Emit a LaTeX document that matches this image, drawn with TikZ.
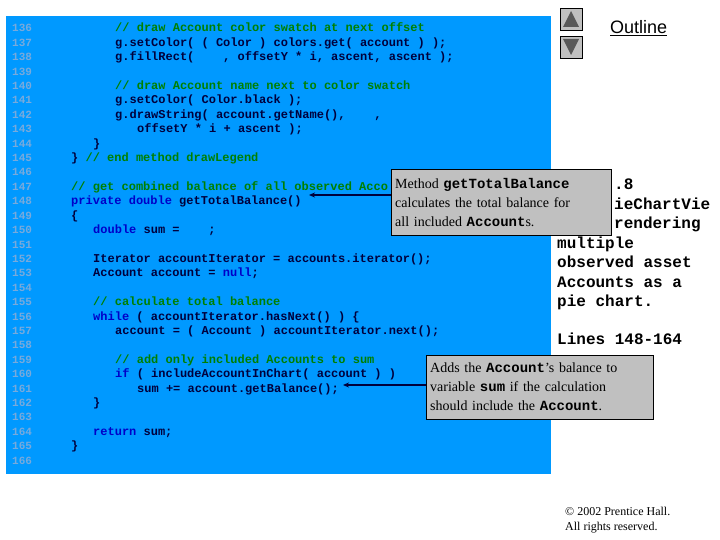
\documentclass[tikz,border=0pt]{standalone}
\usepackage{fontspec}
\usetikzlibrary{arrows.meta}
\setmainfont{Liberation Serif}
\newfontfamily\cmono{Liberation Mono}
\newfontfamily\csans{Liberation Sans}
\begin{document}
\begin{tikzpicture}[x=1pt,y=-1pt,
  ln/.style={anchor=base west,inner sep=0,font=\cmono\bfseries\fontsize{11}{12}\selectfont,text=lnc},
  cd/.style={anchor=base west,inner sep=0,font=\cmono\bfseries\fontsize{12}{12}\selectfont,text=txt},
  call/.style={draw=black,fill=boxg,anchor=north west,align=left,inner xsep=4pt,inner ysep=4pt,font=\fontsize{14}{19}\selectfont,text=black},
  arr/.style={draw=txt,line width=1.6pt,-{Stealth[length=6pt,width=5pt]}},
  side/.style={anchor=base west,inner sep=0,font=\cmono\bfseries\fontsize{16}{16}\selectfont}]
\definecolor{bg}{RGB}{0,153,255}
\definecolor{lnc}{RGB}{120,170,220}
\definecolor{cm}{RGB}{0,128,0}
\definecolor{kw}{RGB}{0,0,200}
\definecolor{txt}{RGB}{0,0,60}
\definecolor{boxg}{RGB}{192,192,192}
\useasboundingbox (0,0) rectangle (720,540);
\fill[white] (0,0) rectangle (720,540);
\fill[bg] (6,16) rectangle (551,474);
\newcommand\Y[1]{32+(#1-136)*14.4}
\foreach \n in {136,...,166}{\node[ln] (n\n) at (12,{32+(\n-136)*14.4}) {\n};}
\def\C#1{\textcolor{cm}{#1}}\def\K#1{\textcolor{kw}{#1}}
\node[cd] (c136) at (115,{\Y{136}}) {\C{// draw Account color swatch at next offset}};
\node[cd] (c137) at (115,{\Y{137}}) {g.setColor( ( Color ) colors.get( account ) );};
\node[cd] (c138) at (115,{\Y{138}}) {g.fillRect(~~~~, offsetY * i, ascent, ascent );};
\node[cd] (c140) at (115,{\Y{140}}) {\C{// draw Account name next to color swatch}};
\node[cd] (c141) at (115,{\Y{141}}) {g.setColor( Color.black );};
\node[cd] (c142) at (115,{\Y{142}}) {g.drawString( account.getName(),~~~~,};
\node[cd] (c143) at (137,{\Y{143}}) {offsetY * i + ascent );};
\node[cd] (c144) at (93,{\Y{144}}) {\}};
\node[cd] (c145) at (71,{\Y{145}}) {\} \C{// end method drawLegend}};
\node[cd] (c147) at (71,{\Y{147}}) {\C{// get combined balance of all observed Acco}};
\node[cd] (c148) at (71,{\Y{148}}) {\K{private double} getTotalBalance()};
\node[cd] (c149) at (71,{\Y{149}}) {\{};
\node[cd] (c150) at (93,{\Y{150}}) {\K{double} sum =~~~~;};
\node[cd] (c152) at (93,{\Y{152}}) {Iterator accountIterator = accounts.iterator();};
\node[cd] (c153) at (93,{\Y{153}}) {Account account = \K{null};};
\node[cd] (c155) at (93,{\Y{155}}) {\C{// calculate total balance}};
\node[cd] (c156) at (93,{\Y{156}}) {\K{while} ( accountIterator.hasNext() ) \{};
\node[cd] (c157) at (115,{\Y{157}}) {account = ( Account ) accountIterator.next();};
\node[cd] (c159) at (115,{\Y{159}}) {\C{// add only included Accounts to sum}};
\node[cd] (c160) at (115,{\Y{160}}) {\K{if} ( includeAccountInChart( account ) )};
\node[cd] (c161) at (137,{\Y{161}}) {sum += account.getBalance();};
\node[cd] (c162) at (93,{\Y{162}}) {\}};
\node[cd] (c164) at (93,{\Y{164}}) {\K{return} sum;};
\node[cd] (c165) at (71,{\Y{165}}) {\}};
% side text
\node[side] (s1) at (614,190) {.8};
\node[side] (s2) at (614,210) {ieChartVie};
\node[side] (s3) at (614,229) {rendering};
\node[side] (s4) at (557,248) {multiple};
\node[side] (s5) at (557,267) {observed asset};
\node[side] (s6) at (557,287) {Accounts as a};
\node[side] (s7) at (557,306) {pie chart.};
\node[side] (s8) at (557,344) {Lines 148-164};
% callouts
\node[call,text width=212pt,minimum height=66pt] (b1) at (391,169) {Method \textbf{\cmono getTotalBalance}\\calculates the total balance for\\all included \textbf{\cmono Account}s.};
\node[call,text width=219pt,minimum height=64pt] (b2) at (426,355) {Adds the \textbf{\cmono Account}'s balance to\\variable \textbf{\cmono sum} if the calculation\\should include the \textbf{\cmono Account}.};
\coordinate (t1) at (309,195);
\coordinate (t2) at (343,385);
\draw[arr] (b1.west |- t1) -- (t1);
\draw[arr] (b2.west |- t2) -- (t2);
% outline
\node[anchor=base west,inner sep=0,font=\csans\fontsize{18}{18}\selectfont] (ol) at (610,34) {\underline{Outline}};
\node[draw=black,fill=boxg,minimum width=22pt,minimum height=22pt,inner sep=0] (up) at (571,19) {};
\node[draw=black,fill=boxg,minimum width=22pt,minimum height=22pt,inner sep=0] (dn) at (571,47) {};
\fill[gray!70!black] (563,27) -- (579,27) -- (571,11) -- cycle;
\fill[gray!70!black] (563,39) -- (579,39) -- (571,55) -- cycle;
\node[anchor=base west,inner sep=0,font=\fontsize{12}{12}\selectfont] (cp1) at (565,515) {\textcopyright{} 2002 Prentice Hall.};
\node[anchor=base west,inner sep=0,font=\fontsize{12}{12}\selectfont] (cp2) at (565,530) {All rights reserved.};
\end{tikzpicture}
\end{document}
